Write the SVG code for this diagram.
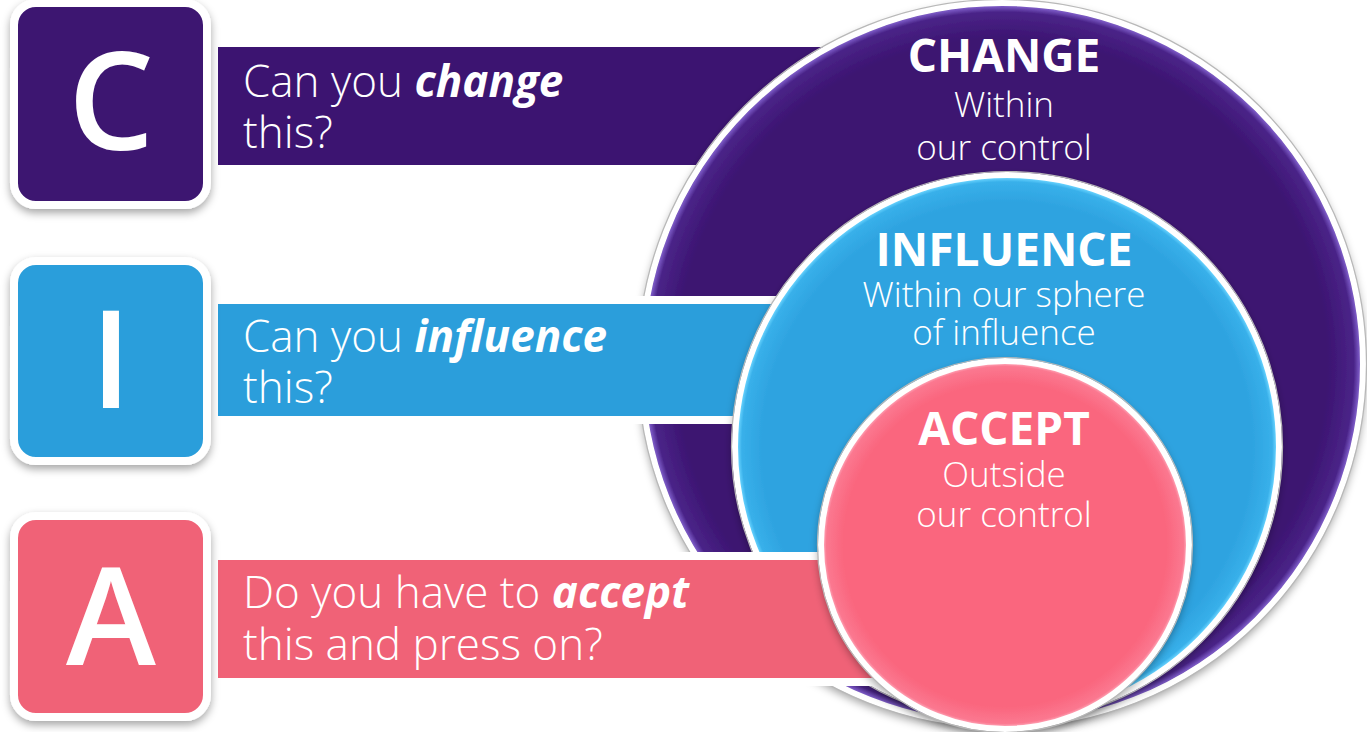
<svg xmlns="http://www.w3.org/2000/svg" width="1367" height="732" viewBox="0 0 1367 732">
<defs>
<style>
.t{font-family:"Open Sans","Noto Sans","Liberation Sans",sans-serif;fill:#fff}
.q{font-size:44px;font-weight:300}
.em{font-weight:700;font-style:italic}
.big{font-size:136px;font-weight:600}
.h{font-size:46px;font-weight:700}
.s{font-size:35px;font-weight:300}
.ring{stroke:#fff;stroke-width:6}
.edge{fill:none;stroke:#b8b8b8;stroke-width:1.2}
.bandw{fill:#fff}
</style>
<filter id="sh" x="-10%" y="-10%" width="120%" height="125%">
<feDropShadow dx="0" dy="4" stdDeviation="4" flood-color="#000" flood-opacity="0.35"/>
</filter>
<radialGradient id="gp" cx="0.5" cy="0.5" r="0.5">
<stop offset="0.9" stop-color="#3c1471"/>
<stop offset="0.975" stop-color="#4a2488"/>
<stop offset="0.99" stop-color="#7a58c4"/>
<stop offset="1" stop-color="#3c1471"/>
</radialGradient>
<radialGradient id="gb" cx="0.5" cy="0.5" r="0.5">
<stop offset="0.9" stop-color="#2ea3e0"/>
<stop offset="0.975" stop-color="#38b0ea"/>
<stop offset="0.99" stop-color="#6ad4ff"/>
<stop offset="1" stop-color="#2ea3e0"/>
</radialGradient>
<radialGradient id="gk" cx="0.5" cy="0.5" r="0.5">
<stop offset="0.88" stop-color="#fa667e"/>
<stop offset="0.97" stop-color="#fb7890"/>
<stop offset="0.99" stop-color="#ffb0c0"/>
<stop offset="1" stop-color="#f05a74"/>
</radialGradient>
</defs>
<rect width="1367" height="732" fill="#fff"/>

<g id="band-change">
<rect x="218" y="47" width="640" height="118" fill="#3c1471"/>
<text class="t q" x="243" y="97">Can you <tspan class="em">change</tspan></text>
<text class="t q" x="243" y="148">this?</text>
</g>

<g id="circle-change">
<circle cx="1002" cy="364" r="361" fill="url(#gp)" class="ring" filter="url(#sh)"/>
<circle cx="1002" cy="364" r="364.5" class="edge"/>
<text class="t h" x="1004" y="72" text-anchor="middle">CHANGE</text>
<text class="t s" x="1004" y="117" text-anchor="middle">Within</text>
<text class="t s" x="1004" y="160" text-anchor="middle">our control</text>
</g>

<g id="band-influence">
<rect x="210" y="296" width="600" height="128" class="bandw"/>
<rect x="218" y="304" width="592" height="112" fill="#2b9edb"/>
<text class="t q" x="243" y="352">Can you <tspan class="em">influence</tspan></text>
<text class="t q" x="243" y="403">this?</text>
</g>

<g id="circle-influence">
<circle cx="1007" cy="447" r="272" fill="url(#gb)" class="ring" filter="url(#sh)"/>
<circle cx="1007" cy="447" r="275.5" class="edge"/>
<text class="t h" x="1004" y="266" text-anchor="middle">INFLUENCE</text>
<text class="t s" x="1004" y="307" text-anchor="middle">Within our sphere</text>
<text class="t s" x="1004" y="345" text-anchor="middle">of influence</text>
</g>

<g id="band-accept">
<rect x="210" y="552" width="690" height="134" class="bandw"/>
<rect x="218" y="560" width="682" height="118" fill="#f06277"/>
<text class="t q" x="243" y="608">Do you have to <tspan class="em">accept</tspan></text>
<text class="t q" x="243" y="660">this and press on?</text>
</g>

<g id="circle-accept">
<circle cx="1005" cy="545" r="184" fill="url(#gk)" class="ring" filter="url(#sh)"/>
<circle cx="1005" cy="545" r="187.5" class="edge"/>
<text class="t h" x="1004" y="445" text-anchor="middle">ACCEPT</text>
<text class="t s" x="1004" y="487" text-anchor="middle">Outside</text>
<text class="t s" x="1004" y="527" text-anchor="middle">our control</text>
</g>

<g id="box-c">
<rect x="14" y="3" width="193" height="202" rx="22" fill="#3c1471" stroke="#fff" stroke-width="8" filter="url(#sh)"/>
<text class="t big" x="111" y="150" text-anchor="middle">C</text>
</g>
<g id="box-i">
<rect x="14" y="261" width="193" height="200" rx="22" fill="#2b9edb" stroke="#fff" stroke-width="8" filter="url(#sh)"/>
<text class="t big" x="111" y="408" text-anchor="middle">I</text>
</g>
<g id="box-a">
<rect x="14" y="516" width="193" height="201" rx="22" fill="#f06277" stroke="#fff" stroke-width="8" filter="url(#sh)"/>
<text class="t big" x="111" y="665" text-anchor="middle">A</text>
</g>
</svg>
